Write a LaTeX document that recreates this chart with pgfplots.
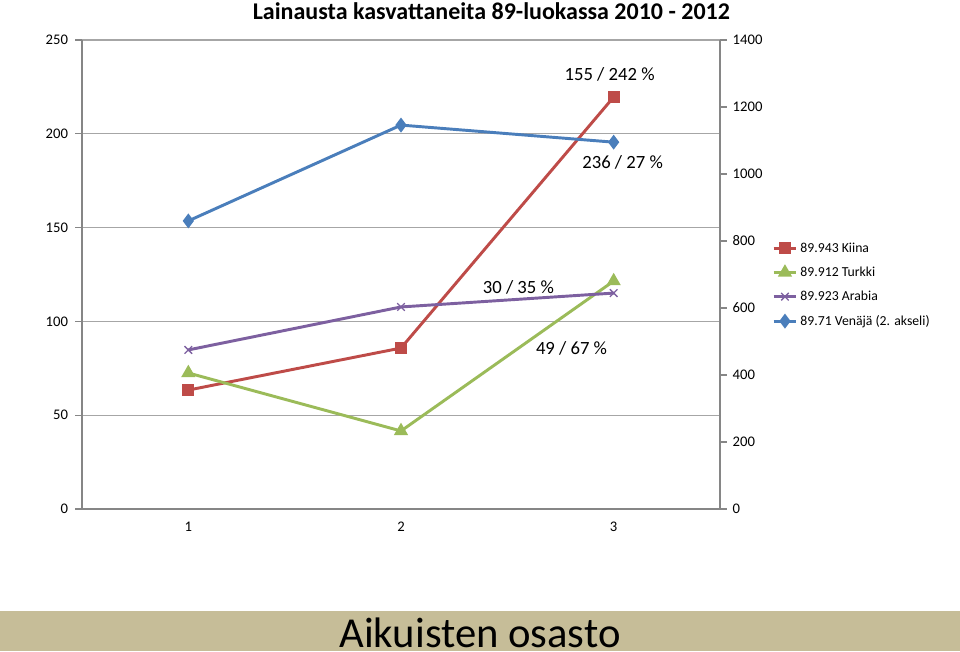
\documentclass[border=0pt]{standalone}
\usepackage{pgfplots}
\pgfplotsset{compat=1.18}
\usepackage{fontspec}
\setmainfont{Carlito}
\definecolor{kiina}{HTML}{BE4B48}
\definecolor{turkki}{HTML}{9BBB59}
\definecolor{arabia}{HTML}{7D60A0}
\definecolor{venaja}{HTML}{4A7EBB}
\definecolor{axgray}{HTML}{868686}
\definecolor{gridgray}{HTML}{A6A6A6}
\definecolor{band}{HTML}{C6BD98}

\begin{document}
\begin{tikzpicture}
\path[use as bounding box] (-61.5pt,-106.5pt) rectangle (658.5pt,381.75pt);
\fill[band] (-61.5pt,-106.5pt) rectangle (658.5pt,-76.5pt);
\node[anchor=base, font=\fontsize{32}{36}\selectfont] at (298.5pt,-104pt) {Aikuisten osasto};
\node[anchor=base, font=\fontsize{18}{22}\selectfont\bfseries] at (307pt,366.75pt) {Lainausta kasvattaneita 89-luokassa 2010 - 2012};

\pgfplotsset{
  every axis/.append style={
    scale only axis, width=478.5pt, height=351.75pt,
    xmin=0.5, xmax=3.5,
    tick label style={font=\fontsize{11}{13}\selectfont},
    /pgf/number format/assume math mode=true,
    /pgf/number format/1000 sep={},
    axis line style={axgray, line width=0.8pt},
    major tick style={axgray, line width=0.8pt},
    tick align=outside, major tick length=5pt,
    every axis plot/.append style={line width=2.2pt, mark size=3.5pt},
  },
}

\begin{axis}[
  axis x line*=bottom, axis y line*=left,
  ymin=0, ymax=250, ytick={0,50,...,250},
  ymajorgrids, grid style={gridgray, line width=0.8pt},
  xtick={1,2,3}, xticklabels={1,2,3},
  x tick style={draw=none},
  extra x ticks={0.5,1.5,2.5,3.5}, extra x tick labels={},
  extra x tick style={grid=none, major tick style={axgray, line width=0.8pt}},
  xticklabel style={yshift=-1pt},
  yticklabel style={xshift=-2pt},
  legend style={at={(1.075,0.58)}, anchor=north west, draw=none, fill=none,
    font=\fontsize{10.3}{12}\selectfont, row sep=5.5pt,
    /tikz/every even column/.append style={column sep=1pt}},
  legend cell align=left,
]
\addplot[kiina, mark=square*] coordinates {(1,63.4)(2,85.8)(3,219.6)};
\addlegendentry{89.943 Kiina}
\addplot[turkki, mark=triangle*, mark size=4pt] coordinates {(1,72.5)(2,41.6)(3,121.5)};
\addlegendentry{89.912 Turkki}
\addplot[arabia, mark=x, mark size=4pt, mark options={line width=1pt}] coordinates {(1,84.8)(2,107.7)(3,115.1)};
\addlegendentry{89.923 Arabia}
\addlegendimage{venaja, line width=2.2pt, mark=diamond*, mark size=3.8pt}
\addlegendentry{89.71 Venäjä (2. akseli)}
\node[font=\fontsize{14}{16}\selectfont] at (axis cs:2.981,231.9) {155 / 242 \%};
\node[font=\fontsize{14}{16}\selectfont] at (axis cs:3.042,185.0) {236 / 27 \%};
\node[font=\fontsize{14}{16}\selectfont] at (axis cs:2.552,118.3) {30 / 35 \%};
\node[font=\fontsize{14}{16}\selectfont] at (axis cs:2.802,85.8) {49 / 67 \%};
\end{axis}

\begin{axis}[
  axis x line=none, axis y line*=right,
  ymin=0, ymax=1400, ytick={0,200,...,1400},
  xtick=\empty,
  yticklabel style={xshift=1pt},
]
\addplot[venaja, mark=diamond*, mark size=3.8pt] coordinates {(1,860)(2,1146)(3,1095)};
\end{axis}
\end{tikzpicture}
\end{document}
